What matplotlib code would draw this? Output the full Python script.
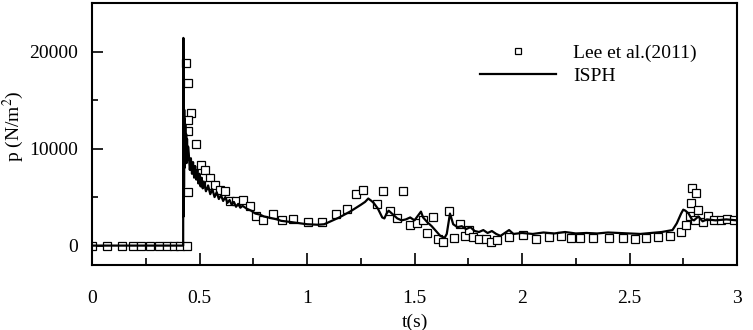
import matplotlib
matplotlib.use('Agg')
import matplotlib.pyplot as plt
from matplotlib.ticker import MultipleLocator

plt.rcParams['font.family'] = ['Liberation Serif', 'DejaVu Serif']
plt.rcParams['mathtext.fontset'] = 'stix'

# Lee et al.(2011) - puntos experimentales
t_lee = [0, 0.07, 0.14, 0.19, 0.23, 0.27, 0.31, 0.35, 0.38, 0.41, 0.44,
         0.437, 0.448, 0.46, 0.448, 0.445, 0.484, 0.448, 0.507, 0.526, 0.549,
         0.544, 0.572, 0.595, 0.619, 0.642, 0.67, 0.70, 0.735, 0.761, 0.797,
         0.84, 0.882, 0.936, 1.003, 1.071, 1.133, 1.185, 1.226, 1.259, 1.324,
         1.352, 1.386, 1.417, 1.448, 1.479, 1.51, 1.538, 1.557, 1.585, 1.611,
         1.634, 1.662, 1.684, 1.712, 1.735, 1.755, 1.773, 1.8, 1.831, 1.856,
         1.882, 1.941, 2.006, 2.064, 2.127, 2.18, 2.228, 2.27, 2.329, 2.405,
         2.468, 2.526, 2.577, 2.634, 2.688, 2.74, 2.763, 2.781, 2.785, 2.789,
         2.809, 2.817, 2.805, 2.84, 2.867, 2.895, 2.926, 2.955, 2.985]
p_lee = [0, 0, 0, 0, 0, 0, 0, 0, 0, 0, 0,
         18830, 16770, 13680, 12990, 11790, 10480, 5540, 8280, 7770, 6980,
         6290, 6220, 5700, 5600, 4570, 4570, 4740, 4050, 3020, 2680,
         3270, 2610, 2780, 2440, 2440, 3300, 3780, 5330, 5770, 4330,
         5600, 3610, 2850, 5600, 2090, 2340, 2610, 1310, 2920, 690,
         380, 3540, 790, 2270, 1030, 1650, 860, 690, 690, 380,
         620, 900, 1060, 720, 860, 960, 790, 790, 790, 790,
         790, 720, 790, 860, 960, 1370, 2170, 3020, 4400, 5950,
         5430, 3640, 2680, 2440, 3020, 2610, 2680, 2780, 2610]

# ISPH
t_isph = [0, 0.424, 0.425, 0.426, 0.427, 0.428, 0.429, 0.430, 0.431, 0.432,
          0.434, 0.436, 0.438, 0.44, 0.442, 0.444, 0.447, 0.45, 0.455, 0.46,
          0.465, 0.47, 0.475, 0.48, 0.485, 0.49, 0.495, 0.5, 0.505, 0.51,
          0.515, 0.52, 0.53, 0.54, 0.55, 0.56, 0.57, 0.58, 0.59, 0.6,
          0.61, 0.62, 0.63, 0.64, 0.65, 0.66, 0.67, 0.68, 0.69, 0.7,
          0.72, 0.74, 0.76, 0.78, 0.8, 0.82, 0.84, 0.86, 0.88, 0.9,
          0.95, 1.0, 1.05, 1.08, 1.1, 1.15, 1.2, 1.25, 1.27, 1.285,
          1.3, 1.31, 1.33, 1.35, 1.36, 1.37, 1.38, 1.4, 1.42, 1.44,
          1.46, 1.48, 1.5, 1.52, 1.53, 1.54, 1.56, 1.58, 1.6, 1.62,
          1.64, 1.65, 1.665, 1.68, 1.7, 1.72, 1.74, 1.76, 1.78, 1.8,
          1.82, 1.84, 1.86, 1.88, 1.9, 1.92, 1.94, 1.96, 2.0, 2.05,
          2.1, 2.15, 2.2, 2.25, 2.3, 2.35, 2.4, 2.45, 2.5, 2.55,
          2.6, 2.65, 2.7, 2.72, 2.74, 2.75, 2.76, 2.775, 2.79, 2.8,
          2.82, 2.84, 2.86, 2.9, 2.95, 3.0]
p_isph = [0, 0, 21400, 3000, 20000, 6000, 14000, 8000, 13000, 8500,
          12500, 9000, 11500, 8500, 11000, 8800, 10200, 9500, 7800, 9000,
          7400, 8600, 7000, 8200, 6800, 7800, 6400, 7400, 6100, 7000,
          5900, 6600, 5600, 6200, 5300, 5800, 5000, 5500, 4800, 5200,
          4600, 5000, 4400, 4700, 4200, 4500, 4000, 4300, 3900, 4100,
          3800, 3600, 3300, 3200, 3000, 2900, 2800, 2700, 2550, 2500,
          2350, 2200, 2150, 2200, 2400, 2900, 3500, 4200, 4500, 4850,
          4600, 4400, 3800, 2900, 2800, 3300, 3600, 3200, 2800, 2600,
          2700, 2900, 2600, 3200, 3500, 2900, 2400, 2000, 1500, 1000,
          800, 1200, 3300, 2200, 1900, 2000, 1700, 1900, 1500, 1400,
          1600, 1300, 1500, 1200, 1000, 1300, 1600, 1200, 1300, 1200,
          1350, 1250, 1400, 1250, 1300, 1250, 1350, 1300, 1250, 1200,
          1300, 1400, 1600, 2300, 3300, 3700, 3600, 3300, 2700, 2600,
          3000, 2500, 2700, 2600, 2700, 2600]

fig = plt.figure(figsize=(7.53, 3.30), dpi=100)
ax = fig.add_axes([92/753, 1-265/330, 645/753, 262/330])

ax.plot(t_lee, p_lee, linestyle='none', marker='s', markersize=5.6,
        markerfacecolor='white', markeredgecolor='black', markeredgewidth=0.9,
        label='Lee et al.(2011)')
ax.plot(t_isph, p_isph, color='black', linewidth=1.6, label='ISPH')

ax.set_xlim(0, 3)
ax.set_ylim(-2000, 25000)
ax.xaxis.set_minor_locator(MultipleLocator(0.25))
ax.yaxis.set_minor_locator(MultipleLocator(5000))
ax.set_xticks([0, 0.5, 1, 1.5, 2, 2.5, 3])
ax.set_xticklabels(['0', '0.5', '1', '1.5', '2', '2.5', '3'])
ax.set_yticks([0, 10000, 20000])
ax.set_yticklabels(['0', '10000', '20000'])

ax.tick_params(which='both', direction='in', top=False, right=False, width=1.2)
ax.tick_params(axis='x', which='major', length=9, pad=18, labelsize=14)
ax.tick_params(axis='x', which='minor', length=5)
ax.tick_params(axis='y', which='major', length=8, pad=10, labelsize=14)
ax.tick_params(axis='y', which='minor', length=4)
for s in ax.spines.values():
    s.set_linewidth(1.5)

ax.set_xlabel('t(s)', fontsize=14)
ax.xaxis.set_label_coords(0.5, -0.185)
ax.set_ylabel('p (N/m$^2$)', fontsize=14)
ax.yaxis.set_label_coords(-0.102, 0.53)

ax.legend(loc='upper left', bbox_to_anchor=((480-92)/645, (265-44)/262),
          frameon=False, fontsize=14, handlelength=3.9, handletextpad=0.9,
          labelspacing=0.3, borderpad=0, borderaxespad=0, markerscale=0.65)

fig.savefig('out.png', dpi=100)
